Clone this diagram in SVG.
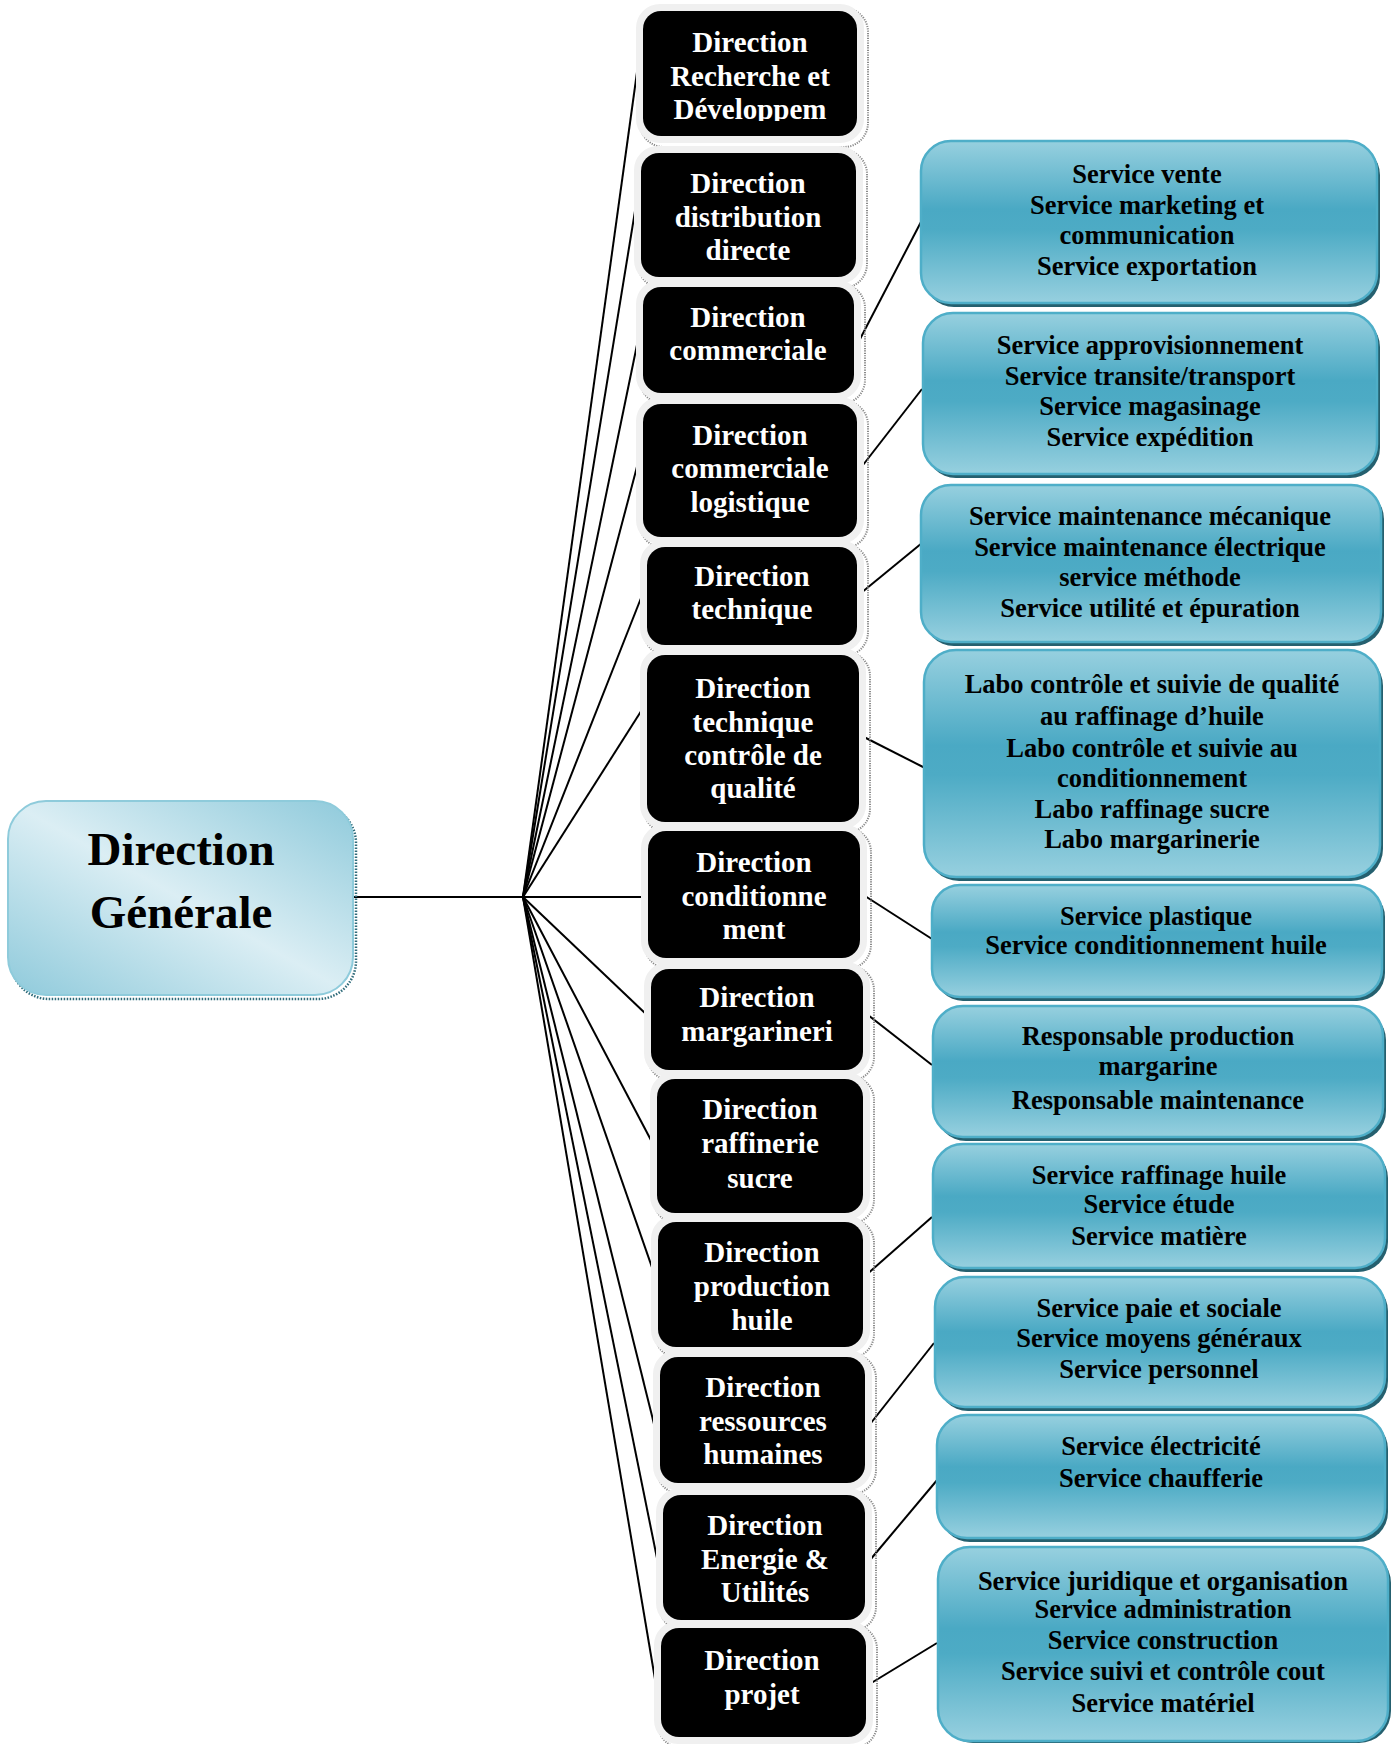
<svg xmlns="http://www.w3.org/2000/svg" width="1398" height="1744" viewBox="0 0 1398 1744">
<style>
.dt{font-family:"Liberation Serif","Times New Roman",serif;font-weight:bold;font-size:29px;fill:#ffffff;text-anchor:middle}
.bt{font-family:"Liberation Serif","Times New Roman",serif;font-weight:bold;font-size:26.5px;fill:#000000;text-anchor:middle}
.rt{font-family:"Liberation Serif","Times New Roman",serif;font-weight:bold;font-size:47px;fill:#000000;text-anchor:middle}
.dbox{fill:#000000}
.dout{fill:#f0f0f0}
.dsh{fill:none;stroke:#8a8a8a;stroke-width:2;stroke-dasharray:1.2 1.2}
.bbox{fill:url(#gBlue);stroke:#4eaec8;stroke-width:2.5}
.bsh{fill:#25606f}
.ln{stroke:#000000;stroke-width:2;fill:none}
</style>
<defs>
<linearGradient id="gBlue" x1="0" y1="0" x2="0" y2="1">
<stop offset="0" stop-color="#97d0df"/>
<stop offset="0.42" stop-color="#4aa9c4"/>
<stop offset="0.55" stop-color="#4dabc5"/>
<stop offset="1" stop-color="#97d0df"/>
</linearGradient>
<linearGradient id="gRoot" x1="1" y1="0" x2="0" y2="1">
<stop offset="0" stop-color="#8fcadb"/>
<stop offset="0.5" stop-color="#dbeef4"/>
<stop offset="1" stop-color="#8fcadb"/>
</linearGradient>
<clipPath id="clip1"><rect x="643" y="11" width="214" height="110"/></clipPath>
</defs>
<rect width="1398" height="1744" fill="#ffffff"/>

<g id="connectors">
<line class="ln" x1="353" y1="897" x2="643" y2="897"/>
<line class="ln" x1="523" y1="897" x2="638" y2="65"/>
<line class="ln" x1="523" y1="897" x2="636" y2="205"/>
<line class="ln" x1="523" y1="897" x2="638" y2="340"/>
<line class="ln" x1="523" y1="897" x2="638" y2="463"/>
<line class="ln" x1="523" y1="897" x2="643" y2="593"/>
<line class="ln" x1="523" y1="897" x2="645" y2="705"/>
<line class="ln" x1="523" y1="897" x2="647" y2="1015"/>
<line class="ln" x1="523" y1="897" x2="653" y2="1144"/>
<line class="ln" x1="523" y1="897" x2="655" y2="1276"/>
<line class="ln" x1="523" y1="897" x2="655" y2="1428"/>
<line class="ln" x1="523" y1="897" x2="660" y2="1573"/>
<line class="ln" x1="523" y1="897" x2="656" y2="1685"/>
<line class="ln" x1="859" y1="341" x2="922" y2="220"/>
<line class="ln" x1="863" y1="465" x2="922" y2="389"/>
<line class="ln" x1="861" y1="593" x2="922" y2="543"/>
<line class="ln" x1="860" y1="735" x2="925" y2="768"/>
<line class="ln" x1="865" y1="896" x2="932" y2="939"/>
<line class="ln" x1="868" y1="1015" x2="932" y2="1065"/>
<line class="ln" x1="865" y1="1276" x2="932" y2="1217"/>
<line class="ln" x1="867" y1="1428" x2="934" y2="1343"/>
<line class="ln" x1="870" y1="1560" x2="938" y2="1479"/>
<line class="ln" x1="868" y1="1685" x2="937" y2="1643"/>
</g>

<g id="root">
<rect x="11" y="805" width="345" height="194" rx="38" fill="none" stroke="#2f6b7a" stroke-width="2.5" stroke-dasharray="1.5 1.5"/>
<rect x="8" y="801" width="345" height="194" rx="38" fill="url(#gRoot)" stroke="#8ecbdb" stroke-width="2"/>
<text class="rt"><tspan x="181" y="865">Direction</tspan><tspan x="181" y="928">Générale</tspan></text>
</g>

<g id="d1">
<rect class="dsh" x="640" y="8" width="228" height="139" rx="24"/>
<rect class="dout" x="636" y="4" width="228" height="139" rx="24"/>
<rect class="dbox" x="643" y="11" width="214" height="125" rx="18"/>
<text class="dt" clip-path="url(#clip1)"><tspan x="750" y="52">Direction</tspan><tspan x="750" y="86">Recherche et</tspan><tspan x="750" y="119">Développem</tspan></text>
</g>
<g id="d2">
<rect class="dsh" x="638" y="150" width="229" height="138" rx="24"/>
<rect class="dout" x="634" y="146" width="229" height="138" rx="24"/>
<rect class="dbox" x="641" y="153" width="215" height="124" rx="18"/>
<text class="dt"><tspan x="748" y="193">Direction</tspan><tspan x="748" y="227">distribution</tspan><tspan x="748" y="260">directe</tspan></text>
</g>
<g id="d3">
<rect class="dsh" x="640" y="284" width="225" height="120" rx="24"/>
<rect class="dout" x="636" y="280" width="225" height="120" rx="24"/>
<rect class="dbox" x="643" y="287" width="211" height="106" rx="18"/>
<text class="dt"><tspan x="748" y="327">Direction</tspan><tspan x="748" y="360">commerciale</tspan></text>
</g>
<g id="d4">
<rect class="dsh" x="640" y="401" width="228" height="147" rx="24"/>
<rect class="dout" x="636" y="397" width="228" height="147" rx="24"/>
<rect class="dbox" x="643" y="404" width="214" height="133" rx="18"/>
<text class="dt"><tspan x="750" y="445">Direction</tspan><tspan x="750" y="478">commerciale</tspan><tspan x="750" y="512">logistique</tspan></text>
</g>
<g id="d5">
<rect class="dsh" x="644" y="544" width="224" height="112" rx="24"/>
<rect class="dout" x="640" y="540" width="224" height="112" rx="24"/>
<rect class="dbox" x="647" y="547" width="210" height="98" rx="18"/>
<text class="dt"><tspan x="752" y="586">Direction</tspan><tspan x="752" y="619">technique</tspan></text>
</g>
<g id="d6">
<rect class="dsh" x="644" y="652" width="226" height="181" rx="24"/>
<rect class="dout" x="640" y="648" width="226" height="181" rx="24"/>
<rect class="dbox" x="647" y="655" width="212" height="167" rx="18"/>
<text class="dt"><tspan x="753" y="698">Direction</tspan><tspan x="753" y="732">technique</tspan><tspan x="753" y="765">contrôle de</tspan><tspan x="753" y="798">qualité</tspan></text>
</g>
<g id="d7">
<rect class="dsh" x="645" y="828" width="226" height="141" rx="24"/>
<rect class="dout" x="641" y="824" width="226" height="141" rx="24"/>
<rect class="dbox" x="648" y="831" width="212" height="127" rx="18"/>
<text class="dt"><tspan x="754" y="872">Direction</tspan><tspan x="754" y="906">conditionne</tspan><tspan x="754" y="939">ment</tspan></text>
</g>
<g id="d8">
<rect class="dsh" x="648" y="966" width="226" height="115" rx="24"/>
<rect class="dout" x="644" y="962" width="226" height="115" rx="24"/>
<rect class="dbox" x="651" y="969" width="212" height="101" rx="18"/>
<text class="dt"><tspan x="757" y="1007">Direction</tspan><tspan x="757" y="1041">margarineri</tspan></text>
</g>
<g id="d9">
<rect class="dsh" x="654" y="1076" width="220" height="148" rx="24"/>
<rect class="dout" x="650" y="1072" width="220" height="148" rx="24"/>
<rect class="dbox" x="657" y="1079" width="206" height="134" rx="18"/>
<text class="dt"><tspan x="760" y="1119">Direction</tspan><tspan x="760" y="1153">raffinerie</tspan><tspan x="760" y="1188">sucre</tspan></text>
</g>
<g id="d10">
<rect class="dsh" x="655" y="1219" width="219" height="139" rx="24"/>
<rect class="dout" x="651" y="1215" width="219" height="139" rx="24"/>
<rect class="dbox" x="658" y="1222" width="205" height="125" rx="18"/>
<text class="dt"><tspan x="762" y="1262">Direction</tspan><tspan x="762" y="1296">production</tspan><tspan x="762" y="1330">huile</tspan></text>
</g>
<g id="d11">
<rect class="dsh" x="657" y="1354" width="219" height="140" rx="24"/>
<rect class="dout" x="653" y="1350" width="219" height="140" rx="24"/>
<rect class="dbox" x="660" y="1357" width="205" height="126" rx="18"/>
<text class="dt"><tspan x="763" y="1397">Direction</tspan><tspan x="763" y="1431">ressources</tspan><tspan x="763" y="1464">humaines</tspan></text>
</g>
<g id="d12">
<rect class="dsh" x="660" y="1492" width="216" height="139" rx="24"/>
<rect class="dout" x="656" y="1488" width="216" height="139" rx="24"/>
<rect class="dbox" x="663" y="1495" width="202" height="125" rx="18"/>
<text class="dt"><tspan x="765" y="1535">Direction</tspan><tspan x="765" y="1569">Energie &amp;</tspan><tspan x="765" y="1602">Utilités</tspan></text>
</g>
<g id="d13">
<rect class="dsh" x="658" y="1625" width="219" height="123" rx="24"/>
<rect class="dout" x="654" y="1621" width="219" height="123" rx="24"/>
<rect class="dbox" x="661" y="1628" width="205" height="109" rx="18"/>
<text class="dt"><tspan x="762" y="1670">Direction</tspan><tspan x="762" y="1704">projet</tspan></text>
</g>

<g id="s1">
<rect class="bsh" x="924" y="145" width="456" height="162" rx="30"/>
<rect class="bbox" x="921" y="141" width="456" height="162" rx="30"/>
<text class="bt"><tspan x="1147" y="183">Service vente</tspan><tspan x="1147" y="213.5">Service marketing et</tspan><tspan x="1147" y="244">communication</tspan><tspan x="1147" y="274.5">Service exportation</tspan></text>
</g>
<g id="s2">
<rect class="bsh" x="926" y="317" width="454" height="161" rx="30"/>
<rect class="bbox" x="923" y="313" width="454" height="161" rx="30"/>
<text class="bt"><tspan x="1150" y="354">Service approvisionnement</tspan><tspan x="1150" y="385">Service transite/transport</tspan><tspan x="1150" y="415">Service magasinage</tspan><tspan x="1150" y="446">Service expédition</tspan></text>
</g>
<g id="s3">
<rect class="bsh" x="924" y="489" width="460" height="157" rx="30"/>
<rect class="bbox" x="921" y="485" width="460" height="157" rx="30"/>
<text class="bt"><tspan x="1150" y="525">Service maintenance mécanique</tspan><tspan x="1150" y="556">Service maintenance électrique</tspan><tspan x="1150" y="586">service méthode</tspan><tspan x="1150" y="617">Service utilité et épuration</tspan></text>
</g>
<g id="s4">
<rect class="bsh" x="927" y="654" width="456" height="227" rx="32"/>
<rect class="bbox" x="924" y="650" width="456" height="227" rx="32"/>
<text class="bt"><tspan x="1152" y="693">Labo contrôle et suivie de qualité</tspan><tspan x="1152" y="725">au raffinage d’huile</tspan><tspan x="1152" y="757">Labo contrôle et suivie au</tspan><tspan x="1152" y="787">conditionnement</tspan><tspan x="1152" y="818">Labo raffinage sucre</tspan><tspan x="1152" y="848">Labo margarinerie</tspan></text>
</g>
<g id="s5">
<rect class="bsh" x="935" y="889" width="450" height="112" rx="28"/>
<rect class="bbox" x="932" y="885" width="450" height="112" rx="28"/>
<text class="bt"><tspan x="1156" y="925">Service plastique</tspan><tspan x="1156" y="954">Service conditionnement huile</tspan></text>
</g>
<g id="s6">
<rect class="bsh" x="936" y="1010" width="450" height="131" rx="30"/>
<rect class="bbox" x="933" y="1006" width="450" height="131" rx="30"/>
<text class="bt"><tspan x="1158" y="1045">Responsable production</tspan><tspan x="1158" y="1075">margarine</tspan><tspan x="1158" y="1109">Responsable maintenance</tspan></text>
</g>
<g id="s7">
<rect class="bsh" x="936" y="1148" width="452" height="124" rx="30"/>
<rect class="bbox" x="933" y="1144" width="452" height="124" rx="30"/>
<text class="bt"><tspan x="1159" y="1184">Service raffinage huile</tspan><tspan x="1159" y="1213">Service étude</tspan><tspan x="1159" y="1245">Service matière</tspan></text>
</g>
<g id="s8">
<rect class="bsh" x="938" y="1281" width="450" height="130" rx="30"/>
<rect class="bbox" x="935" y="1277" width="450" height="130" rx="30"/>
<text class="bt"><tspan x="1159" y="1317">Service paie et sociale</tspan><tspan x="1159" y="1347">Service moyens généraux</tspan><tspan x="1159" y="1378">Service personnel</tspan></text>
</g>
<g id="s9">
<rect class="bsh" x="940" y="1419" width="448" height="123" rx="30"/>
<rect class="bbox" x="937" y="1415" width="448" height="123" rx="30"/>
<text class="bt"><tspan x="1161" y="1455">Service électricité</tspan><tspan x="1161" y="1487">Service chaufferie</tspan></text>
</g>
<g id="s10">
<rect class="bsh" x="941" y="1551" width="450" height="192" rx="32"/>
<rect class="bbox" x="938" y="1547" width="450" height="194" rx="32"/>
<text class="bt"><tspan x="1163" y="1590">Service juridique et organisation</tspan><tspan x="1163" y="1618">Service administration</tspan><tspan x="1163" y="1649">Service construction</tspan><tspan x="1163" y="1680">Service suivi et contrôle cout</tspan><tspan x="1163" y="1712">Service matériel</tspan></text>
</g>
</svg>
